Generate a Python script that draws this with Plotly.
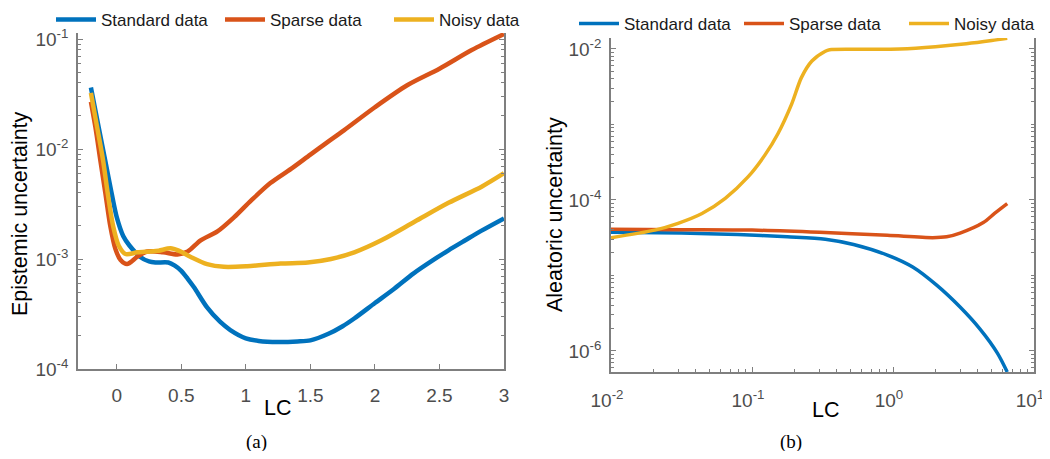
import plotly.graph_objects as go

# ---------------- data ----------------
series_names = ["Standard data", "Sparse data", "Noisy data"]
colors = ["#0072BD", "#D95319", "#EDB120"]

# Panel (a): epistemic uncertainty vs LC
a_std_x = [-0.2, -0.14, -0.09, -0.04, 0.0, 0.05, 0.1, 0.18, 0.25, 0.3, 0.4, 0.45, 0.5, 0.55, 0.6, 0.7,
           0.8, 0.88, 1.0, 1.1, 1.25, 1.4, 1.5, 1.64, 1.75, 1.84, 2.0, 2.15, 2.3, 2.45, 2.57, 2.7,
           2.83, 3.0]
a_std_y = [0.0363, 0.0158, 0.00794, 0.00398, 0.0024, 0.00162, 0.00132, 0.00105, 0.00095, 0.00093,
           0.00093, 0.00087, 0.00078, 0.00066, 0.00055, 0.000363, 0.000269, 0.000226, 0.00019,
           0.00018, 0.000176, 0.000178, 0.000182, 0.000209, 0.000245, 0.000288, 0.000398,
           0.000537, 0.000741, 0.000977, 0.0012, 0.00148, 0.00182, 0.00234]

a_sp_x = [-0.2, -0.165, -0.127, -0.088, -0.05, -0.01, 0.03, 0.08, 0.16, 0.236, 0.36, 0.47, 0.55,
          0.65, 0.78, 0.91, 1.04, 1.19, 1.35, 1.5, 1.63, 1.76, 2.0, 2.25, 2.5, 2.75, 3.0]
a_sp_y = [0.0269, 0.0158, 0.00794, 0.00398, 0.002, 0.00123, 0.00098, 0.0009, 0.00105, 0.00117,
          0.00115, 0.0011, 0.00117, 0.00148, 0.00178, 0.0024, 0.00339, 0.0049, 0.0066, 0.0089,
          0.0115, 0.0148, 0.024, 0.038, 0.0537, 0.0794, 0.111]

a_no_x = [-0.2, -0.152, -0.106, -0.07, -0.028, 0.016, 0.068, 0.16, 0.26, 0.325, 0.417, 0.48, 0.57,
          0.7, 0.83, 1.01, 1.27, 1.48, 1.66, 1.84, 2.05, 2.31, 2.57, 2.83, 3.0]
a_no_y = [0.0324, 0.0158, 0.00794, 0.00398, 0.002, 0.00132, 0.00111, 0.00115, 0.00117, 0.00119,
          0.00125, 0.00119, 0.00105, 0.0009, 0.00085, 0.00086, 0.00091, 0.00093, 0.001, 0.00115,
          0.00148, 0.00219, 0.00324, 0.00457, 0.00603]

# Panel (b): aleatoric uncertainty vs LC (log-log)
b_std_x = [0.01, 0.0316, 0.0794, 0.178, 0.331, 0.525, 0.912, 1.38, 2.04, 2.99, 4.17, 5.5, 6.46]
b_std_y = [3.72e-05, 3.63e-05, 3.47e-05, 3.24e-05, 3.02e-05, 2.57e-05, 1.86e-05, 1.29e-05,
           7.41e-06, 3.8e-06, 1.91e-06, 9.33e-07, 5.25e-07]

b_sp_x = [0.01, 0.0316, 0.1, 0.302, 0.912, 1.91, 2.4, 2.99, 4.37, 5.25, 6.46]
b_sp_y = [4.07e-05, 4.03e-05, 3.98e-05, 3.72e-05, 3.39e-05, 3.16e-05, 3.24e-05, 3.63e-05,
          5.01e-05, 6.61e-05, 8.91e-05]

b_no_x = [0.01, 0.0204, 0.0299, 0.0442, 0.0646, 0.0933, 0.123, 0.153, 0.191, 0.224, 0.266, 0.331,
          0.355, 0.631, 1.12, 2.0, 3.31, 5.01, 6.46]
b_no_y = [3.16e-05, 3.98e-05, 4.9e-05, 6.61e-05, 0.000105, 0.0002, 0.000389, 0.000759, 0.00186,
          0.00417, 0.00692, 0.00933, 0.00977, 0.00989, 0.01, 0.0107, 0.0117, 0.0129, 0.0138]

a_xticks = [0, 0.5, 1, 1.5, 2, 2.5, 3]
a_xticktext = ["0", "0.5", "1", "1.5", "2", "2.5", "3"]
a_yticks = [1e-4, 1e-3, 1e-2, 1e-1]
a_yticktext = ["10<sup>-4</sup>", "10<sup>-3</sup>", "10<sup>-2</sup>", "10<sup>-1</sup>"]
b_xticks = [0.01, 0.1, 1, 10]
b_xticktext = ["10<sup>-2</sup>", "10<sup>-1</sup>", "10<sup>0</sup>", "10<sup>1</sup>"]
b_yticks = [1e-6, 1e-4, 1e-2]
b_yticktext = ["10<sup>-6</sup>", "10<sup>-4</sup>", "10<sup>-2</sup>"]

# ---------------- figure ----------------
FONT = "Liberation Sans, Arial, sans-serif"
SERIF = "Liberation Serif, Times New Roman, serif"
AX = "#7f7f7f"
TICKCOL = "#4d4d4d"

fig = go.Figure()
a_data = [(a_std_x, a_std_y), (a_sp_x, a_sp_y), (a_no_x, a_no_y)]
b_data = [(b_std_x, b_std_y), (b_sp_x, b_sp_y), (b_no_x, b_no_y)]
for (xs, ys), name, c in zip(a_data, series_names, colors):
    fig.add_trace(go.Scatter(x=xs, y=ys, name=name, mode="lines",
                             line=dict(color=c, width=4.5, shape="spline", smoothing=0.8),
                             xaxis="x", yaxis="y", legend="legend"))
for (xs, ys), name, c in zip(b_data, series_names, colors):
    fig.add_trace(go.Scatter(x=xs, y=ys, name=name, mode="lines",
                             line=dict(color=c, width=3.5, shape="spline", smoothing=0.8),
                             xaxis="x2", yaxis="y2", legend="legend2"))

# page body has an 8px margin; the figure fills the rest of the 1050x459 window
OFF = 8
W, H = 1050 - OFF, 459 - 2 * OFF
def px_x(p):
    return (p - OFF) / W
def px_y(p):
    return 1 - (p - OFF) / H

common_axis = dict(showline=True, linecolor=AX, linewidth=1.5, ticks="inside", ticklen=5,
                   tickcolor=AX, tickwidth=1, showgrid=False, zeroline=False,
                   ticklabeloverflow="allow",
                   tickfont=dict(family=FONT, size=19, color=TICKCOL))
minor_log = dict(ticks="inside", ticklen=3, tickcolor=AX, dtick="D1")

fig.update_layout(
    width=W, height=H,
    margin=dict(l=0, r=0, t=0, b=0, autoexpand=False),
    paper_bgcolor="white", plot_bgcolor="white",
    font=dict(family=FONT),
    xaxis=dict(domain=[px_x(78), px_x(504)], range=[-0.3, 3], tickvals=a_xticks,
               ticktext=a_xticktext, anchor="y", ticklabelstandoff=8, **common_axis),
    yaxis=dict(domain=[px_y(369), px_y(33)], type="log", range=[-4, -0.945],
               tickvals=a_yticks, ticktext=a_yticktext, anchor="x", mirror="ticks",
               ticklabelstandoff=4, minor=minor_log, **common_axis),
    xaxis2=dict(domain=[px_x(611), px_x(1034)], type="log", range=[-2, 1], tickvals=b_xticks,
                ticktext=b_xticktext, anchor="y2", ticklabelstandoff=10, ticklabelshift=-4,
                minor=minor_log, **common_axis),
    yaxis2=dict(domain=[px_y(372), px_y(38)], type="log", range=[-6.28, -1.855],
                tickvals=b_yticks, ticktext=b_yticktext, anchor="x2", mirror="ticks",
                ticklabelstandoff=4, minor=minor_log, **common_axis),
    legend=dict(orientation="h", x=px_x(51), y=px_y(2), xanchor="left", yanchor="top",
                bgcolor="rgba(0,0,0,0)", font=dict(family=FONT, size=17, color="#1a1a1a"),
                itemwidth=40, entrywidth=114, tracegroupgap=0),
    legend2=dict(orientation="h", x=px_x(574), y=px_y(6), xanchor="left", yanchor="top",
                 bgcolor="rgba(0,0,0,0)", font=dict(family=FONT, size=17, color="#1a1a1a"),
                 itemwidth=40, entrywidth=110, tracegroupgap=0),
    showlegend=True,
)

annots = [
    dict(text="Epistemic uncertainty", x=px_x(20), y=px_y(214), textangle=-90,
         font=dict(family=FONT, size=21.5, color="black")),
    dict(text="Aleatoric uncertainty", x=px_x(555), y=px_y(215), textangle=-90,
         font=dict(family=FONT, size=21.5, color="black")),
    dict(text="LC", x=px_x(277), y=px_y(408), font=dict(family=FONT, size=21.5, color="black")),
    dict(text="LC", x=px_x(825), y=px_y(410), font=dict(family=FONT, size=21.5, color="black")),
    dict(text="(a)", x=px_x(256), y=px_y(442), font=dict(family=SERIF, size=19, color="black")),
    dict(text="(b)", x=px_x(791), y=px_y(442), font=dict(family=SERIF, size=19, color="black")),
]
for a in annots:
    fig.add_annotation(xref="paper", yref="paper", showarrow=False, xanchor="center",
                       yanchor="middle", **a)

fig.write_html("out.html")
